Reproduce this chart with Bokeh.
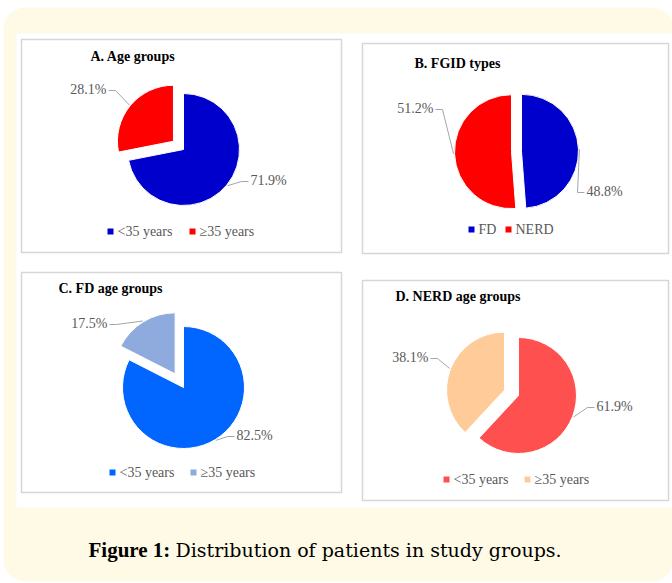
import numpy as np
from bokeh.plotting import figure
from bokeh.models import Range1d
from bokeh.core.properties import value
from bokeh.embed import file_html
from bokeh.resources import INLINE

W, H = 672, 583

# ---------------- data ----------------
a_labels = ["<35 years", "≥35 years"]
a_values = [71.9, 28.1]
b_labels = ["FD", "NERD"]
b_values = [48.8, 51.2]
c_labels = ["<35 years", "≥35 years"]
c_values = [82.5, 17.5]
d_labels = ["<35 years", "≥35 years"]
d_values = [61.9, 38.1]
titles = ["A. Age groups", "B. FGID types", "C. FD age groups", "D. NERD age groups"]
caption_bold = "Figure 1:"
caption_rest = "Distribution of patients in study groups."

# ---------------- layout / style ----------------
FONT = "Liberation Serif"
LABEL_COLOR = "#595959"
LEADER_COLOR = "#A6A6A6"
CREAM = "#FEFAE6"
BORDER = "#D6D6D6"

panels = [
    dict(labels=a_labels, values=a_values, colors=["#0000CC", "#FF0000"],
         box=(21, 39, 341, 252), title=(90, 56), center=(183, 149), r=56,
         explode=[0, 13],
         lab=[(250, 180, "left"), (106, 89, "right")],
         leg_x=[110, 192], leg_y=231),
    dict(labels=b_labels, values=b_values, colors=["#0000CC", "#FF0000"],
         box=(362, 43, 668, 253), title=(414, 63), center=(516, 151), r=57,
         explode=[5, 5],
         lab=[(586, 191, "left"), (433, 108, "right")],
         leg_x=[471, 508], leg_y=229),
    dict(labels=c_labels, values=c_values, colors=["#0066FF", "#8FAADC"],
         box=(21, 272, 341, 492), title=(58, 287.5), center=(183, 387), r=61,
         explode=[0, 16],
         lab=[(236, 435, "left"), (107, 323, "right")],
         leg_x=[112, 193], leg_y=472),
    dict(labels=d_labels, values=d_values, colors=["#FF5050", "#FFCC99"],
         box=(362, 280, 668, 500), title=(395, 296), center=(518, 395), r=58,
         explode=[0, 15],
         lab=[(596, 406, "left"), (428, 357, "right")],
         leg_x=[446, 527], leg_y=479),
]


def Y(y):
    return H - np.asarray(y, dtype=float)


def rounded_rect(x0, y0, x1, y1, r, n=12):
    xs, ys = [], []
    corners = [(x1 - r, y0 + r, 90, 0), (x1 - r, y1 - r, 0, -90),
               (x0 + r, y1 - r, -90, -180), (x0 + r, y0 + r, 180, 90)]
    for cx, cy, a0, a1 in corners:
        t = np.radians(np.linspace(a0, a1, n))
        xs.extend(cx + r * np.cos(t))
        ys.extend(cy - r * np.sin(t))
    return xs, list(Y(ys))


p = figure(width=W, height=H, x_range=Range1d(0, W), y_range=Range1d(0, H),
           output_backend="svg", toolbar_location=None, min_border=0)
p.axis.visible = False
p.grid.visible = False
p.outline_line_color = None
p.background_fill_color = "white"
p.border_fill_color = "white"

# cream frame
fx, fy = rounded_rect(3, 7, 673, 581, 22)
p.patch(fx, fy, fill_color=CREAM, line_color=None)
# white inner area
p.quad(left=16, right=672, top=Y(33), bottom=Y(507), fill_color="white", line_color=None)

for k, pn in enumerate(panels):
    x0, y0, x1, y1 = pn["box"]
    p.quad(left=x0, right=x1, top=Y(y0), bottom=Y(y1), fill_color="white",
           line_color=BORDER, line_width=1.5)
    p.text(x=[pn["title"][0]], y=Y([pn["title"][1]]), text=[titles[k]],
           text_font=value(FONT), text_font_style="bold", text_font_size="14px",
           text_color="#000000", text_baseline="middle", text_align="left")

    vals = np.array(pn["values"], dtype=float)
    frac = vals / vals.sum()
    cum = np.concatenate([[0], np.cumsum(frac)])
    cx, cy = pn["center"]
    r = pn["r"]
    for i in range(len(vals)):
        start = np.pi / 2 - 2 * np.pi * cum[i + 1]
        end = np.pi / 2 - 2 * np.pi * cum[i]
        mid = (start + end) / 2
        ax = cx + pn["explode"][i] * np.cos(mid)
        ay = cy - pn["explode"][i] * np.sin(mid)
        p.wedge(x=[ax], y=Y([ay]), radius=r, start_angle=start, end_angle=end,
                fill_color=pn["colors"][i], line_color="white", line_width=1)
        # leader line
        px_ = ax + (r + 1) * np.cos(mid)
        py_ = ay - (r + 1) * np.sin(mid)
        lx, ly, al = pn["lab"][i]
        if al == "left":
            ex, elb = lx - 2, lx - 9
        else:
            ex, elb = lx + 2, lx + 9
        p.line(x=[px_, elb, ex], y=Y([py_, ly + 1, ly + 1]), line_color=LEADER_COLOR, line_width=1)
        p.text(x=[lx], y=Y([ly]), text=[f"{vals[i]:.1f}%"], text_font=value(FONT),
               text_font_size="14px", text_color=LABEL_COLOR, text_baseline="middle",
               text_align=al)
        # legend
        p.scatter(x=[pn["leg_x"][i]], y=Y([pn["leg_y"]]),
                  marker="square", size=6, fill_color=pn["colors"][i], line_color=None)
        p.text(x=[pn["leg_x"][i] + 7], y=Y([pn["leg_y"]]), text=[pn["labels"][i]],
               text_font=value(FONT), text_font_size="14px", text_color=LABEL_COLOR,
               text_baseline="middle", text_align="left")

# caption
p.text(x=[88], y=Y([549]), text=[caption_bold], text_font=value(FONT),
       text_font_style="bold", text_font_size="21px", text_color="#000000",
       text_baseline="middle", text_align="left")
p.text(x=[175], y=Y([549]), text=[caption_rest], text_font=value("DejaVu Serif"),
       text_font_size="19px", text_color="#000000",
       text_baseline="middle", text_align="left")

open("out.html", "w").write(file_html(p, INLINE))
